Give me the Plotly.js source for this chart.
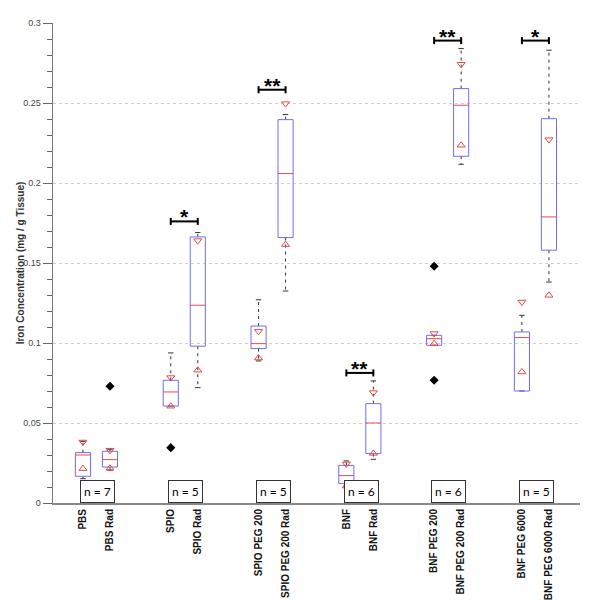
<!DOCTYPE html>
<html>
<head>
<meta charset="utf-8">
<script src="https://cdn.plot.ly/plotly-3.0.1.min.js"></script>
<style>html,body{margin:0;padding:0;background:#fff;}#chart{width:594px;height:600px;}</style>
</head>
<body>
<div id="chart"></div>
<script>
// ---- data ----
var categories = ["PBS","PBS Rad","SPIO","SPIO Rad","SPIO PEG 200","SPIO PEG 200 Rad",
                  "BNF","BNF Rad","BNF PEG 200","BNF PEG 200 Rad","BNF PEG 6000","BNF PEG 6000 Rad"];
var q1       = [0.0167,0.0225,0.0606,0.0980,0.0965,0.1659,0.0121,0.0309,0.0986,0.2167,0.0700,0.1580];
var medians  = [0.0300,0.0271,0.0694,0.1236,0.0996,0.2059,0.0171,0.0500,0.1027,0.2486,0.1034,0.1788];
var q3       = [0.0315,0.0323,0.0767,0.1663,0.1106,0.2396,0.0235,0.0621,0.1048,0.2590,0.1069,0.2402];
var whiskLow = [0.0152,0.0205,0.0606,0.0721,0.0888,0.1325,0.0106,0.0273,0.0986,0.2117,0.0700,0.1381];
var whiskHigh= [0.0385,0.0336,0.0938,0.1690,0.1270,0.2428,0.0263,0.0763,0.1048,0.2840,0.1173,0.2830];
var notchLow = [0.0215,0.0217,0.0605,0.0830,0.0906,0.1615,0.0106,0.0310,0.0996,0.2236,0.0819,0.1298];
var notchHigh= [0.0381,0.0330,0.0784,0.1640,0.1073,0.2496,0.0244,0.0690,0.1059,0.2742,0.1256,0.2271];
var outlierCat = [1, 2, 8, 8];
var outlierVal = [0.0730, 0.0346, 0.0767, 0.1480];
var sigGroups = [1, 2, 3, 4, 5];
var sigLevels = [0.176, 0.2583, 0.0813, 0.289, 0.289];
var sigLabels = ["*", "**", "**", "**", "*"];
var nLabels = ["n = 7","n = 5","n = 5","n = 6","n = 6","n = 5"];

// ---- layout helpers ----
var GROUP_STEP = 3.25, HALF = 0.28, CAP = 0.1;
function pos(i){ return Math.floor(i/2)*GROUP_STEP + (i%2); }
var xs = categories.map(function(_, i){ return pos(i); });

var bx=[],by=[],mx=[],my=[],wx=[],wy=[],cx=[],cy=[];
for (var i=0;i<categories.length;i++){
  var p = xs[i];
  bx.push(p-HALF,p+HALF,p+HALF,p-HALF,p-HALF,null);
  by.push(q1[i],q1[i],q3[i],q3[i],q1[i],null);
  mx.push(p-HALF,p+HALF,null); my.push(medians[i],medians[i],null);
  wx.push(p,p,null,p,p,null); wy.push(q3[i],whiskHigh[i],null,q1[i],whiskLow[i],null);
  cx.push(p-CAP,p+CAP,null,p-CAP,p+CAP,null); cy.push(whiskHigh[i],whiskHigh[i],null,whiskLow[i],whiskLow[i],null);
}
var sx=[],sy=[];
var annotations=[];
for (var k=0;k<sigGroups.length;k++){
  var a = pos(sigGroups[k]*2), b = pos(sigGroups[k]*2+1), L = sigLevels[k], t = 0.0022;
  sx.push(a,b,null,a,a,null,b,b,null); sy.push(L,L,null,L-t,L+t,null,L-t,L+t,null);
  annotations.push({x:(a+b)/2, y:L, xref:'x', yref:'y', text:'<b>'+sigLabels[k]+'</b>', showarrow:false,
    yanchor:'bottom', yshift:-9, font:{family:'Liberation Sans, Arial', size:21, color:'#000'}});
}
for (var g=0; g<nLabels.length; g++){
  annotations.push({x:pos(g*2)+0.55, y:0, xref:'x', yref:'y', text:nLabels[g], showarrow:false,
    yanchor:'bottom', xanchor:'center', bordercolor:'#333', borderwidth:1, borderpad:3, bgcolor:'#fff',
    font:{family:'Lato, Open Sans, sans-serif', size:12, color:'#000'}});
}
annotations.push({xref:'paper', yref:'paper', x:-0.062, y:0.5, xanchor:'center', yanchor:'middle',
  textangle:-90, showarrow:false, text:'<b>Iron Concentration (mg / g Tissue)</b>',
  font:{family:'Liberation Sans, Arial', size:10, color:'#333'}});
var oxs = outlierCat.map(function(c){ return pos(c); });

var traces = [
  {x:wx,y:wy,mode:'lines',line:{color:'#333',width:1,dash:'3px,4px'},hoverinfo:'skip'},
  {x:cx,y:cy,mode:'lines',line:{color:'#333',width:1},hoverinfo:'skip'},
  {x:bx,y:by,mode:'lines',line:{color:'#6e6ef2',width:1},hoverinfo:'skip'},
  {x:mx,y:my,mode:'lines',line:{color:'#f04848',width:1},hoverinfo:'skip'},
  {x:xs,y:notchHigh,mode:'markers',marker:{symbol:'triangle-down-open',size:7,color:'#e84848',line:{width:1}},hoverinfo:'skip'},
  {x:xs,y:notchLow,mode:'markers',marker:{symbol:'triangle-up-open',size:7,color:'#e84848',line:{width:1}},hoverinfo:'skip'},
  {x:oxs,y:outlierVal,mode:'markers',marker:{symbol:'diamond',size:7,color:'#000'},hoverinfo:'skip'},
  {x:sx,y:sy,mode:'lines',line:{color:'#000',width:2},hoverinfo:'skip'}
];

var layout = {
  width:594, height:600, showlegend:false,
  paper_bgcolor:'#fff', plot_bgcolor:'#fff',
  margin:{l:53, r:14, t:23, b:97},
  font:{family:'Liberation Sans, Arial, sans-serif'},
  xaxis:{range:[-1.11,18.4], tickvals:xs, ticktext:categories.map(function(c){return '<b>'+c+'</b>';}),
    tickangle:-90, ticks:'', showgrid:false, zeroline:false, showline:true, linecolor:'#888', linewidth:2,
    tickfont:{size:10, color:'#111'}, fixedrange:true},
  yaxis:{range:[0,0.3], tickvals:[0,0.05,0.1,0.15,0.2,0.25,0.3], ticktext:['0','0.05','0.1','0.15','0.2','0.25','0.3'],
    ticks:'outside', ticklen:9, tickcolor:'#666', showline:true, linecolor:'#777', linewidth:1.5,
    showgrid:true, gridcolor:'#d0d0d0', griddash:'dot', gridwidth:1, zeroline:false,
    minor:{dtick:0.01, ticks:'outside', ticklen:5, tickcolor:'#666', showgrid:false},
    tickfont:{size:9, color:'#444'}},
  annotations:annotations
};
Plotly.newPlot('chart', traces, layout, {staticPlot:true});
</script>
</body>
</html>
